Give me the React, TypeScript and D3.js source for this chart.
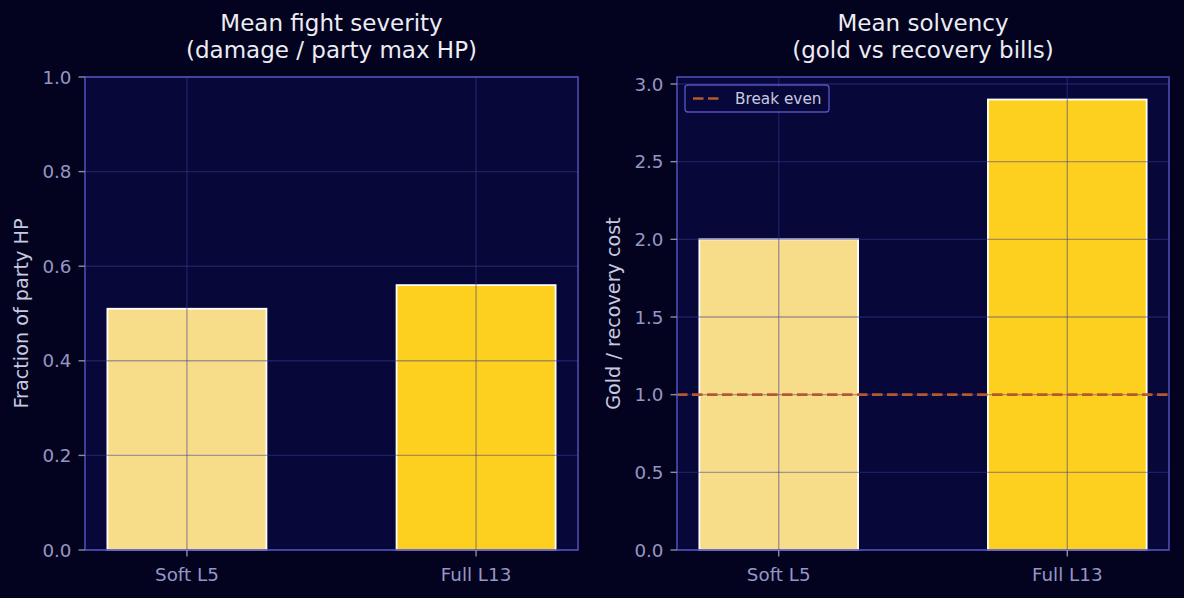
import React from "react";
import * as d3 from "d3";

// Scenario labels and the two summary metrics per scenario
const categories = ["Soft L5", "Full L13"];
const severityValues = [0.51, 0.56];
const solvencyValues = [2.0, 2.9];
const severityTicks = [0, 0.2, 0.4, 0.6, 0.8, 1.0];
const solvencyTicks = [0, 0.5, 1.0, 1.5, 2.0, 2.5, 3.0];
const breakEven = 1.0;
const barColors = ["#f7dd8a", "#fdd01f"];

const W = 1184;
const H = 598;
const FIG_BG = "#03031f";
const AX_BG = "#070839";
const SPINE = "#5252bd";
const GRID = "#3a3a8e";
const TICK_TXT = "#9696c4";
const LABEL_TXT = "#c9c9e0";
const TITLE_TXT = "#ececf4";
const EVEN_COLOR = "#b5582f";
const FONT = "DejaVu Sans, sans-serif";

type PanelProps = {
  x0: number;
  x1: number;
  y0: number;
  y1: number;
  values: number[];
  yMax: number;
  ticks: number[];
  title: string[];
  ylabel: string;
  showBreakEven?: boolean;
};

function Panel({ x0, x1, y0, y1, values, yMax, ticks, title, ylabel, showBreakEven }: PanelProps) {
  // bar width 0.55 in category units, 5% padding on the data range
  const barW = 0.55;
  const lo = -barW / 2;
  const hi = categories.length - 1 + barW / 2;
  const pad = (hi - lo) * 0.05;
  const x = d3.scaleLinear().domain([lo - pad, hi + pad]).range([x0, x1]);
  const y = d3.scaleLinear().domain([0, yMax]).range([y1, y0]);
  const fmt = d3.format(".1f");
  const cx = (x0 + x1) / 2;
  const cy = (y0 + y1) / 2;
  const tickLen = 6.5;

  return (
    <g>
      <rect x={x0} y={y0} width={x1 - x0} height={y1 - y0} fill={AX_BG} />
      {values.map((v, i) => (
        <rect
          key={categories[i]}
          x={x(i - barW / 2)}
          y={y(v)}
          width={x(i + barW / 2) - x(i - barW / 2)}
          height={y(0) - y(v)}
          fill={barColors[i]}
          stroke="#ffffff"
          strokeWidth={1.8}
        />
      ))}
      {/* grid over the bars */}
      {ticks.map((t) => (
        <line key={"gy" + t} x1={x0} x2={x1} y1={y(t)} y2={y(t)} stroke={GRID} strokeOpacity={0.45} strokeWidth={1.4} />
      ))}
      {categories.map((c, i) => (
        <line key={"gx" + c} x1={x(i)} x2={x(i)} y1={y0} y2={y1} stroke={GRID} strokeOpacity={0.45} strokeWidth={1.4} />
      ))}
      {showBreakEven && (
        <line
          x1={x0}
          x2={x1}
          y1={y(breakEven)}
          y2={y(breakEven)}
          stroke={EVEN_COLOR}
          strokeWidth={2.6}
          strokeDasharray="10.5 4.5"
        />
      )}
      <rect x={x0} y={y0} width={x1 - x0} height={y1 - y0} fill="none" stroke={SPINE} strokeWidth={1.5} />
      {/* y axis */}
      {ticks.map((t) => (
        <g key={"ty" + t}>
          <line x1={x0 - tickLen} x2={x0} y1={y(t)} y2={y(t)} stroke="#8a8aa8" strokeWidth={1.4} />
          <text x={x0 - tickLen - 7} y={y(t)} dy="0.36em" textAnchor="end" fill={TICK_TXT} fontSize={18.3} fontFamily={FONT}>
            {fmt(t)}
          </text>
        </g>
      ))}
      {/* x axis */}
      {categories.map((c, i) => (
        <g key={"tx" + c}>
          <line x1={x(i)} x2={x(i)} y1={y1} y2={y1 + tickLen} stroke="#8a8aa8" strokeWidth={1.4} />
          <text x={x(i)} y={581} textAnchor="middle" fill={TICK_TXT} fontSize={18.3} fontFamily={FONT}>
            {c}
          </text>
        </g>
      ))}
      <text
        transform={`translate(${x0 - 57},${cy}) rotate(-90)`}
        textAnchor="middle"
        fill={LABEL_TXT}
        fontSize={19.2}
        fontFamily={FONT}
      >
        {ylabel}
      </text>
      {title.map((line, k) => (
        <text key={line} x={cx} y={31 + k * 27} textAnchor="middle" fill={TITLE_TXT} fontSize={23} fontFamily={FONT}>
          {line}
        </text>
      ))}
      {showBreakEven && (
        <g>
          <rect x={x0 + 8} y={y0 + 8} width={144} height={27} rx={3} fill={AX_BG} fillOpacity={0.85} stroke={SPINE} strokeWidth={1.4} />
          <line x1={x0 + 16} x2={x0 + 46} y1={y0 + 21.5} y2={y0 + 21.5} stroke={EVEN_COLOR} strokeWidth={2.6} strokeDasharray="10.5 4.5" />
          <text x={x0 + 58} y={y0 + 27} fill={LABEL_TXT} fontSize={15.3} fontFamily={FONT}>
            Break even
          </text>
        </g>
      )}
    </g>
  );
}

export default function App() {
  const solvencyMax = d3.max(solvencyValues)! * 1.05;
  return (
    <svg
      width={W}
      height={H}
      style={{ position: "absolute", left: 0, top: 0, display: "block" }}
    >
      <rect width={W} height={H} fill={FIG_BG} />
      <Panel
        x0={85}
        x1={578}
        y0={77}
        y1={550}
        values={severityValues}
        yMax={1.0}
        ticks={severityTicks}
        title={["Mean fight severity", "(damage / party max HP)"]}
        ylabel="Fraction of party HP"
      />
      <Panel
        x0={677}
        x1={1169}
        y0={77}
        y1={550}
        values={solvencyValues}
        yMax={solvencyMax}
        ticks={solvencyTicks}
        title={["Mean solvency", "(gold vs recovery bills)"]}
        ylabel="Gold / recovery cost"
        showBreakEven
      />
    </svg>
  );
}
